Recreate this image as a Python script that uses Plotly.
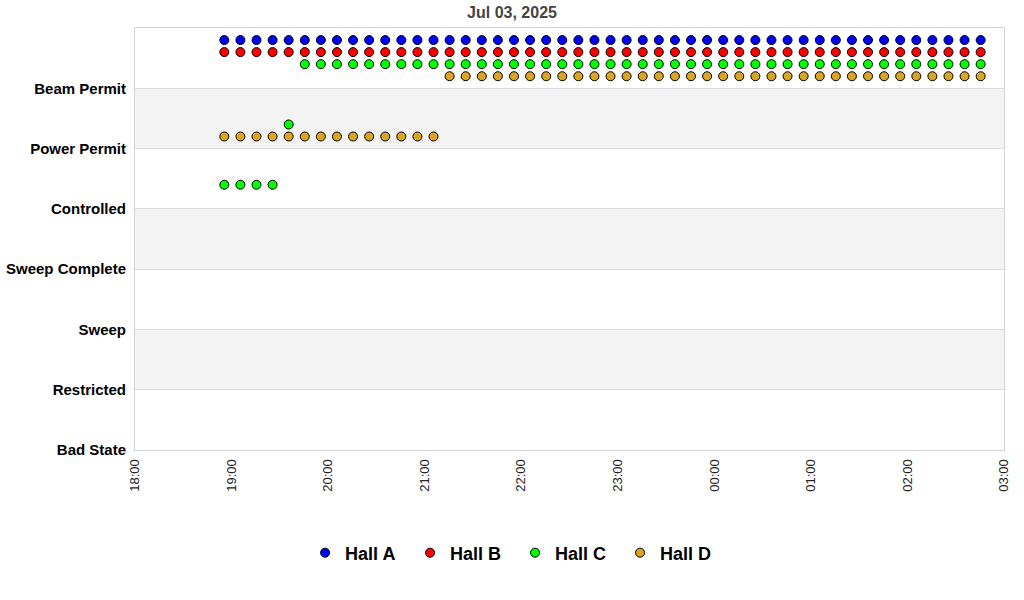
import plotly.graph_objects as go

# ---- data ----
title_text = "Jul 03, 2025"
states = ["Bad State", "Restricted", "Sweep", "Sweep Complete", "Controlled", "Power Permit", "Beam Permit"]

times = [
    "2025-07-03 18:55:30",
    "2025-07-03 19:05:30", "2025-07-03 19:15:30", "2025-07-03 19:25:30", "2025-07-03 19:35:30", "2025-07-03 19:45:30", "2025-07-03 19:55:30",
    "2025-07-03 20:05:30", "2025-07-03 20:15:30", "2025-07-03 20:25:30", "2025-07-03 20:35:30", "2025-07-03 20:45:30", "2025-07-03 20:55:30",
    "2025-07-03 21:05:30", "2025-07-03 21:15:30", "2025-07-03 21:25:30", "2025-07-03 21:35:30", "2025-07-03 21:45:30", "2025-07-03 21:55:30",
    "2025-07-03 22:05:30", "2025-07-03 22:15:30", "2025-07-03 22:25:30", "2025-07-03 22:35:30", "2025-07-03 22:45:30", "2025-07-03 22:55:30",
    "2025-07-03 23:05:30", "2025-07-03 23:15:30", "2025-07-03 23:25:30", "2025-07-03 23:35:30", "2025-07-03 23:45:30", "2025-07-03 23:55:30",
    "2025-07-04 00:05:30", "2025-07-04 00:15:30", "2025-07-04 00:25:30", "2025-07-04 00:35:30", "2025-07-04 00:45:30", "2025-07-04 00:55:30",
    "2025-07-04 01:05:30", "2025-07-04 01:15:30", "2025-07-04 01:25:30", "2025-07-04 01:35:30", "2025-07-04 01:45:30", "2025-07-04 01:55:30",
    "2025-07-04 02:05:30", "2025-07-04 02:15:30", "2025-07-04 02:25:30", "2025-07-04 02:35:30", "2025-07-04 02:45:30",
]

hall_a = ["Beam Permit"] * 48
hall_b = ["Beam Permit"] * 48
hall_c = ["Controlled"] * 4 + ["Power Permit"] + ["Beam Permit"] * 43
hall_d = ["Power Permit"] * 14 + ["Beam Permit"] * 34

x_tick_vals = ["2025-07-03 18:00", "2025-07-03 19:00", "2025-07-03 20:00", "2025-07-03 21:00",
               "2025-07-03 22:00", "2025-07-03 23:00", "2025-07-04 00:00", "2025-07-04 01:00",
               "2025-07-04 02:00", "2025-07-04 03:00"]
x_tick_text = ["18:00", "19:00", "20:00", "21:00", "22:00", "23:00", "00:00", "01:00", "02:00", "03:00"]

# ---- style ----
series = [
    ("Hall A", hall_a, "#0000ff", 0.8),
    ("Hall B", hall_b, "#ff0000", 0.6),
    ("Hall C", hall_c, "#00ff00", 0.4),
    ("Hall D", hall_d, "#daa520", 0.2),
]

fig = go.Figure()
for name, vals, color, off in series:
    fig.add_trace(go.Scatter(
        x=times,
        y=[states.index(v) + off for v in vals],
        mode="markers",
        name=name,
        marker=dict(symbol="circle", size=9, color=color, line=dict(color="black", width=1)),
    ))

# alternating bands
for lo in [1, 3, 5]:
    fig.add_shape(type="rect", xref="paper", yref="y", x0=0, x1=1, y0=lo, y1=lo + 1,
                  fillcolor="#f3f3f3", line=dict(width=0), layer="below")

font_family = "Liberation Sans, Arial, sans-serif"
fig.update_layout(
    width=1024, height=600,
    margin=dict(l=135, r=20, t=28, b=150),
    paper_bgcolor="white", plot_bgcolor="white",
    title=dict(text="<b>" + title_text + "</b>", x=0.5, xref="container", xanchor="center",
               y=1 - 12 / 600, yref="container", yanchor="middle",
               font=dict(family=font_family, size=16, color="#444444")),
    showlegend=True,
    legend=dict(orientation="h", xref="container", yref="container", x=0.503, xanchor="center",
                y=1 - 553 / 600, yanchor="middle",
                font=dict(family=font_family, size=18, color="black", weight="bold"),
                entrywidth=60, entrywidthmode="pixels"),
    font=dict(family=font_family),
)
fig.update_xaxes(
    type="date",
    range=["2025-07-03 18:00", "2025-07-04 03:00"],
    tickmode="array", tickvals=x_tick_vals, ticktext=x_tick_text,
    tickangle=-90, tickfont=dict(family=font_family, size=13, color="#222222"),
    showgrid=False, zeroline=False, automargin=False,
    showline=True, linecolor="#d4d4d4", linewidth=1, mirror=True,
    ticks="", ticklabelstandoff=3,
)
fig.update_yaxes(
    range=[0, 7],
    tickmode="array", tickvals=list(range(len(states))), ticktext=states,
    tickfont=dict(family=font_family, size=15, color="black", weight="bold"),
    showgrid=True, gridcolor="#dcdcdc", gridwidth=1, zeroline=False, automargin=False,
    showline=True, linecolor="#d4d4d4", linewidth=1, mirror=True,
    ticks="", ticklabelstandoff=5,
)

fig.write_html("out.html", config={"displayModeBar": False},
               post_script="document.body.style.margin='0';")
